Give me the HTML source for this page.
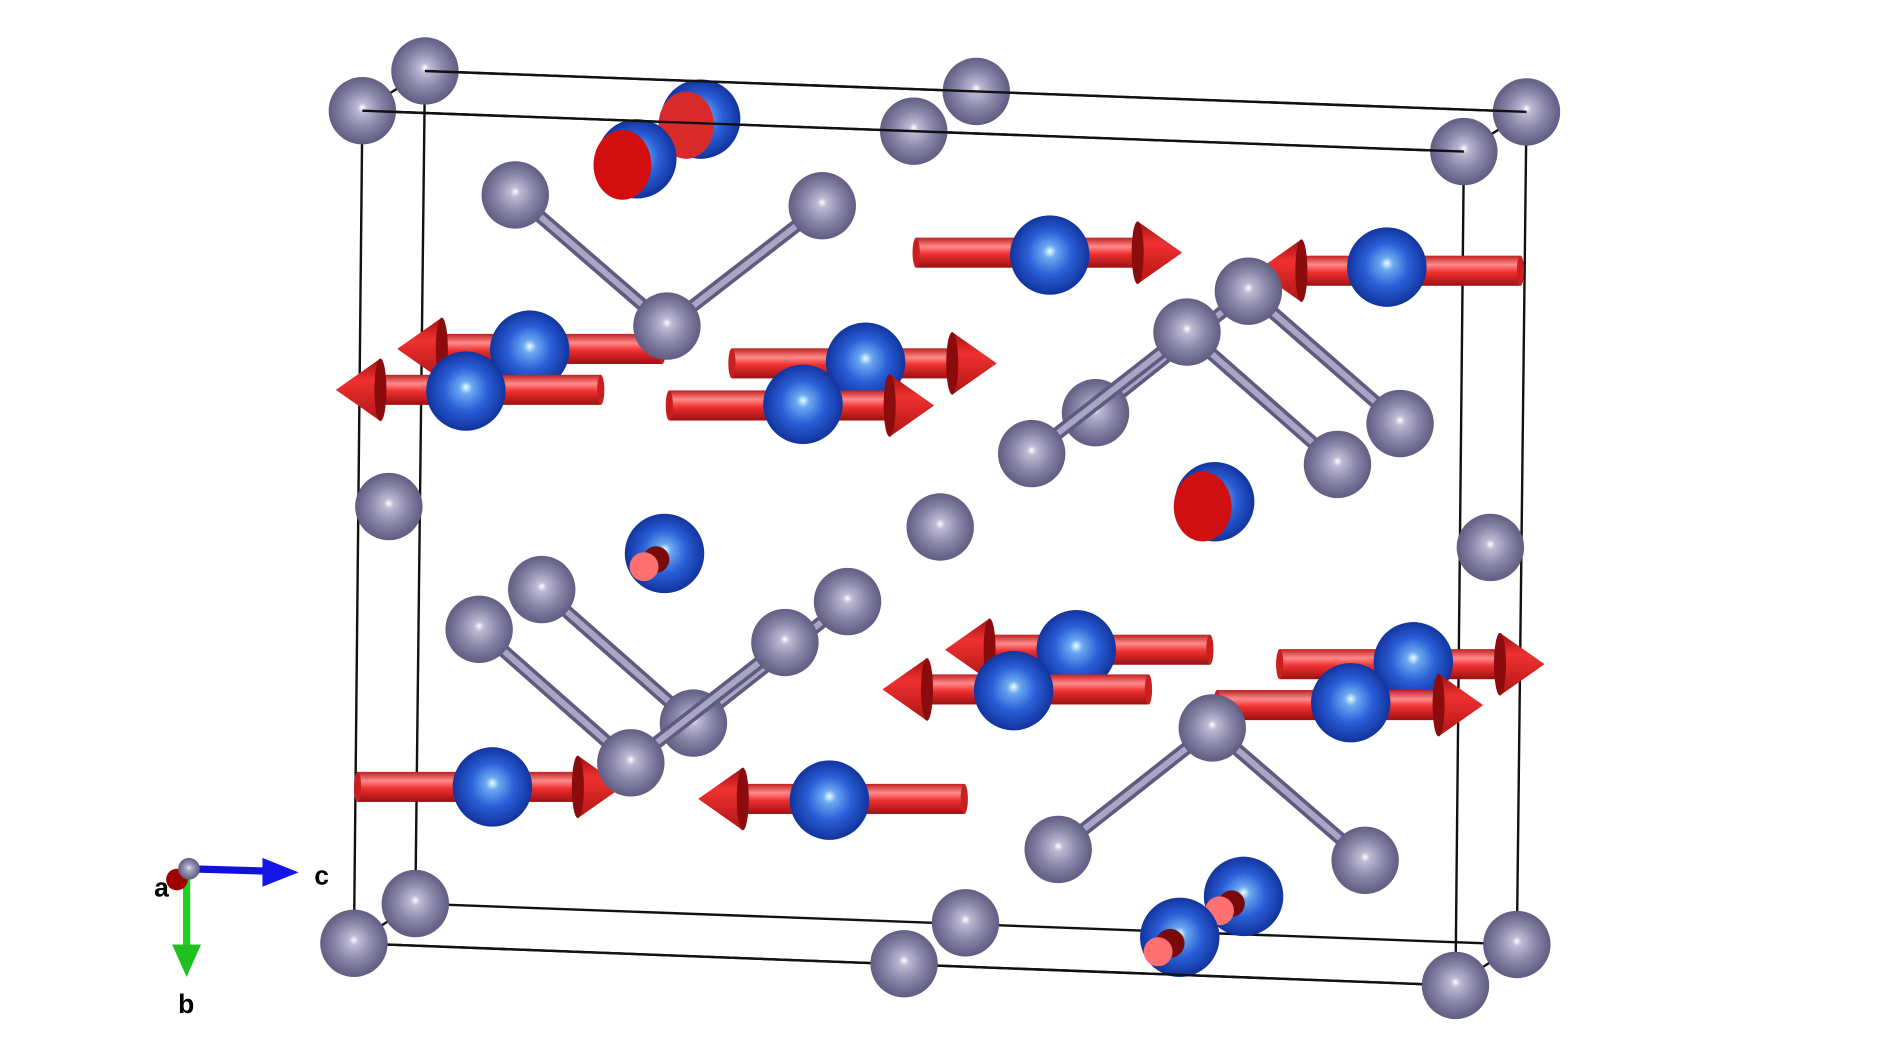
<!DOCTYPE html>
<html><head><meta charset="utf-8"><style>
html,body{margin:0;padding:0;background:#fff;width:1878px;height:1054px;overflow:hidden}
svg{display:block}
text{font-family:"Liberation Sans",sans-serif;font-weight:bold;fill:#000}
</style></head><body>
<svg id="s" width="1878" height="1054" viewBox="0 0 1560 876" preserveAspectRatio="none" xmlns="http://www.w3.org/2000/svg">
<defs>
<radialGradient id="gg" cx="50%" cy="50%" r="55%" fx="50%" fy="45%">
<stop offset="0" stop-color="#ffffff"/><stop offset="0.13" stop-color="#bdbad4"/><stop offset="0.5" stop-color="#8b87a9"/><stop offset="1" stop-color="#57537a"/></radialGradient>
<radialGradient id="bg" cx="50%" cy="50%" r="55%" fx="50%" fy="45%">
<stop offset="0" stop-color="#eaffff"/><stop offset="0.15" stop-color="#6aa8f0"/><stop offset="0.5" stop-color="#2a5fd8"/><stop offset="1" stop-color="#0c2a90"/></radialGradient>
<linearGradient id="rod" x1="0" y1="0" x2="0" y2="1">
<stop offset="0" stop-color="#c02020"/><stop offset="0.3" stop-color="#ff8a8a"/><stop offset="0.55" stop-color="#f03030"/><stop offset="1" stop-color="#9a1010"/></linearGradient>
<linearGradient id="cone" x1="0" y1="0" x2="0" y2="1">
<stop offset="0" stop-color="#a01010"/><stop offset="0.35" stop-color="#f03030"/><stop offset="1" stop-color="#b01515"/></linearGradient>
</defs>
<g transform="translate(-3,-1)">
<g id="box" stroke="#111" stroke-width="2" fill="none">
<path d="M356,60 L1271,94 L1263,786 L348,752 Z"/>
<path d="M304,93 L1219,127 L1212,820 L297,785 Z"/>
<path d="M304,93 L356,60 M1219,127 L1271,94 M1212,820 L1263,786 M297,785 L348,752"/>
</g>
<g id="content"></g>
</g>
<g>
<line x1="155" y1="722" x2="222" y2="724" stroke="#1010e0" stroke-width="6"/>
<polygon points="218,713 248,725 218,737" fill="#1515e8"/>
<line x1="155" y1="722" x2="155" y2="790" stroke="#20d020" stroke-width="6"/>
<polygon points="143,785 167,785 155,812" fill="#20c020"/>
<circle cx="147" cy="731" r="9" fill="#a00000"/>
<circle cx="157" cy="722" r="9" fill="url(#gg)"/>
<text x="128" y="745" font-size="22">a</text>
<text x="261" y="735" font-size="22">c</text>
<text x="148" y="842" font-size="22">b</text>
</g>
</svg>
<script>
var C=document.getElementById('content');var h='';
function gray(x,y){h+='<circle cx="'+x+'" cy="'+y+'" r="28" fill="url(#gg)"/>';}
function blue(x,y){h+='<circle cx="'+x+'" cy="'+y+'" r="33" fill="url(#bg)"/>';}
function bond(a,b,c,d){h+='<line x1="'+a+'" y1="'+b+'" x2="'+c+'" y2="'+d+'" stroke="#5e5a80" stroke-width="11"/><line x1="'+a+'" y1="'+b+'" x2="'+c+'" y2="'+d+'" stroke="#a9a6c4" stroke-width="5"/>';}
function arrow(x0,x1,y){
 var d=x1>x0?1:-1,cl=37,bx=x1-d*cl,r=12.5;
 var xa=Math.min(x0,bx),xb=Math.max(x0,bx);
 h+='<rect x="'+xa+'" y="'+(y-r)+'" width="'+(xb-xa)+'" height="'+(2*r)+'" fill="url(#rod)"/>';
 h+='<ellipse cx="'+x0+'" cy="'+y+'" rx="3" ry="'+r+'" fill="#c82020"/>';
 h+='<polygon points="'+bx+','+(y-26)+' '+x1+','+y+' '+bx+','+(y+26)+'" fill="url(#cone)"/>';
 h+='<ellipse cx="'+bx+'" cy="'+y+'" rx="5" ry="26" fill="#8a0c0c"/>';
}
gray(356,60);gray(814,77);gray(1271,94);
gray(304,93);gray(762,110);gray(1219,127);
blue(585,100);h+='<ellipse cx="573" cy="105" rx="23" ry="28" fill="#d82a2a"/>';
blue(532,133);h+='<ellipse cx="520" cy="138" rx="24" ry="29" fill="#d20e0e"/>';
h+='<path d="M356,60 L1271,94 M304,93 L1219,127" stroke="#111" stroke-width="2"/>';
bond(431,163,557,272);bond(686,172,557,272);
gray(431,163);gray(686,172);
arrow(764,985,211);blue(875,213);
arrow(1266,1047,226);blue(1155,223);
arrow(553,333,291);blue(443,292);
gray(557,272);
arrow(502,282,325);blue(390,326);
arrow(611,831,303);blue(722,302);
arrow(559,779,338);blue(670,337);
bond(1040,243,1166,353);bond(1040,243,913,344);
gray(913,344);gray(1166,353);gray(1040,243);
bond(989,277,1114,387);bond(989,277,860,378);
gray(860,378);gray(1114,387);gray(989,277);
blue(1012,418);h+='<ellipse cx="1002" cy="422" rx="24" ry="29" fill="#d01010"/>';
gray(326,422);gray(784,439);gray(1241,456);
blue(555,461);h+='<circle cx="548" cy="466" r="11" fill="#7a0a0a"/><circle cx="538" cy="472" r="12" fill="#ff7070"/>';
bond(453,491,579,602);bond(707,501,579,602);
gray(707,501);gray(453,491);gray(579,602);
bond(401,524,527,635);bond(655,535,527,635);
gray(401,524);gray(655,535);
arrow(1008,788,541);blue(897,541);
arrow(957,736,574);blue(845,575);
arrow(1066,1286,553);blue(1177,551);
arrow(1014,1235,587);blue(1125,585);
arrow(300,520,655);blue(412,655);
gray(527,635);
arrow(804,583,665);blue(692,666);
bond(1010,606,882,707);bond(1010,606,1137,716);
gray(1010,606);gray(882,707);gray(1137,716);
gray(348,752);gray(805,768);gray(1263,786);
blue(1036,746);h+='<circle cx="1026" cy="752" r="11" fill="#7a0a0a"/><circle cx="1016" cy="758" r="12" fill="#ff7070"/>';
blue(983,780);h+='<circle cx="975" cy="785" r="12" fill="#7a0a0a"/><circle cx="965" cy="792" r="12" fill="#ff7070"/>';
h+='<path d="M297,785 L1212,820" stroke="#111" stroke-width="2"/>';
gray(297,785);gray(754,802);gray(1212,820);
C.innerHTML=h;
</script>
</body></html>
